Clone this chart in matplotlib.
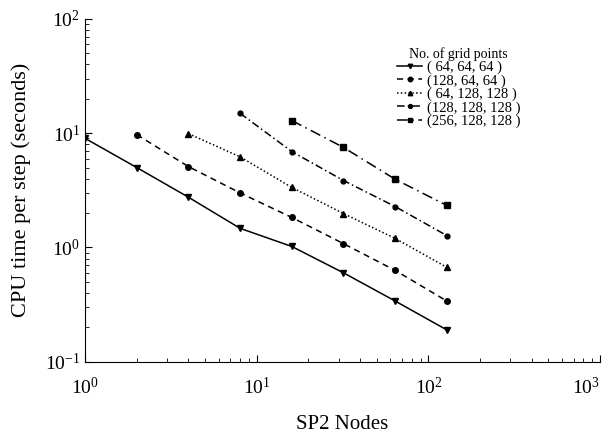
import numpy as np
import matplotlib
matplotlib.use("Agg")
import matplotlib.pyplot as plt

nodes = [1, 2, 4, 8, 16, 32, 64, 128]

time_64_64_64 = [9.0, 5.0, 2.75, 1.47, 1.02, 0.60, 0.34, 0.19]
time_128_64_64 = [9.7, 5.1, 3.0, 1.83, 1.08, 0.63, 0.34]
time_64_128_128 = [9.9, 6.2, 3.35, 1.98, 1.2, 0.67]
time_128_128_128 = [14.9, 6.9, 3.85, 2.28, 1.27]
time_256_128_128 = [12.9, 7.5, 3.95, 2.33]

labels = ["( 64, 64, 64 )", "(128, 64, 64 )", "( 64, 128, 128 )",
          "(128, 128, 128 )", "(256, 128, 128 )"]

plt.rcParams["font.family"] = ["Liberation Serif", "DejaVu Serif"]
plt.rcParams["mathtext.fontset"] = "stix"

fig = plt.figure(figsize=(6.08, 4.38), dpi=100)
ax = fig.add_axes([0.140, 0.174, 0.847, 0.783])

series = [
    (nodes[0:], time_64_64_64, "v", "-", 4),
    (nodes[1:], time_128_64_64, "o", (0, (4, 3)), 4),
    (nodes[2:], time_64_128_128, "^", (0, (1, 1.5)), 4),
    (nodes[3:], time_128_128_128, "o", (0, (5, 2, 1, 2)), 3.5),
    (nodes[4:], time_256_128_128, "s", (0, (7, 3, 1, 3)), 4),
]

for (x, y, m, ls, ms), lab in zip(series, labels):
    ax.plot(x[:len(y)], y, color="black", marker=m, linestyle=ls,
            linewidth=1.1, markersize=ms, label=lab)

ax.set_xscale("log")
ax.set_yscale("log")
ax.set_xlim(1, 1000)
ax.set_ylim(0.1, 100)

ax.spines["top"].set_visible(False)
ax.spines["right"].set_visible(False)
ax.tick_params(which="both", direction="in", labelsize=14, color="black")
ax.tick_params(which="major", length=5)
ax.tick_params(which="minor", length=3)
ax.tick_params(axis="x", pad=11)

ax.set_xlabel("SP2 Nodes", fontsize=15, labelpad=12)
ax.set_ylabel("CPU time per step (seconds)", fontsize=16, labelpad=10)

# последняя подпись оси X не должна выходить за край рисунка
fig.canvas.draw()
for t in ax.get_xticklabels():
    if t.get_text().endswith("{3}}$"):
        t.set_horizontalalignment("right")

leg = ax.legend(loc="upper left", bbox_to_anchor=(0.595, 0.935), frameon=False,
                fontsize=10.5, title="No. of grid points", title_fontsize=10,
                handlelength=1.7, handletextpad=0.3, labelspacing=0.0,
                borderaxespad=0, markerscale=0.8)

fig.savefig("out.png", dpi=100)
plt.close(fig)
